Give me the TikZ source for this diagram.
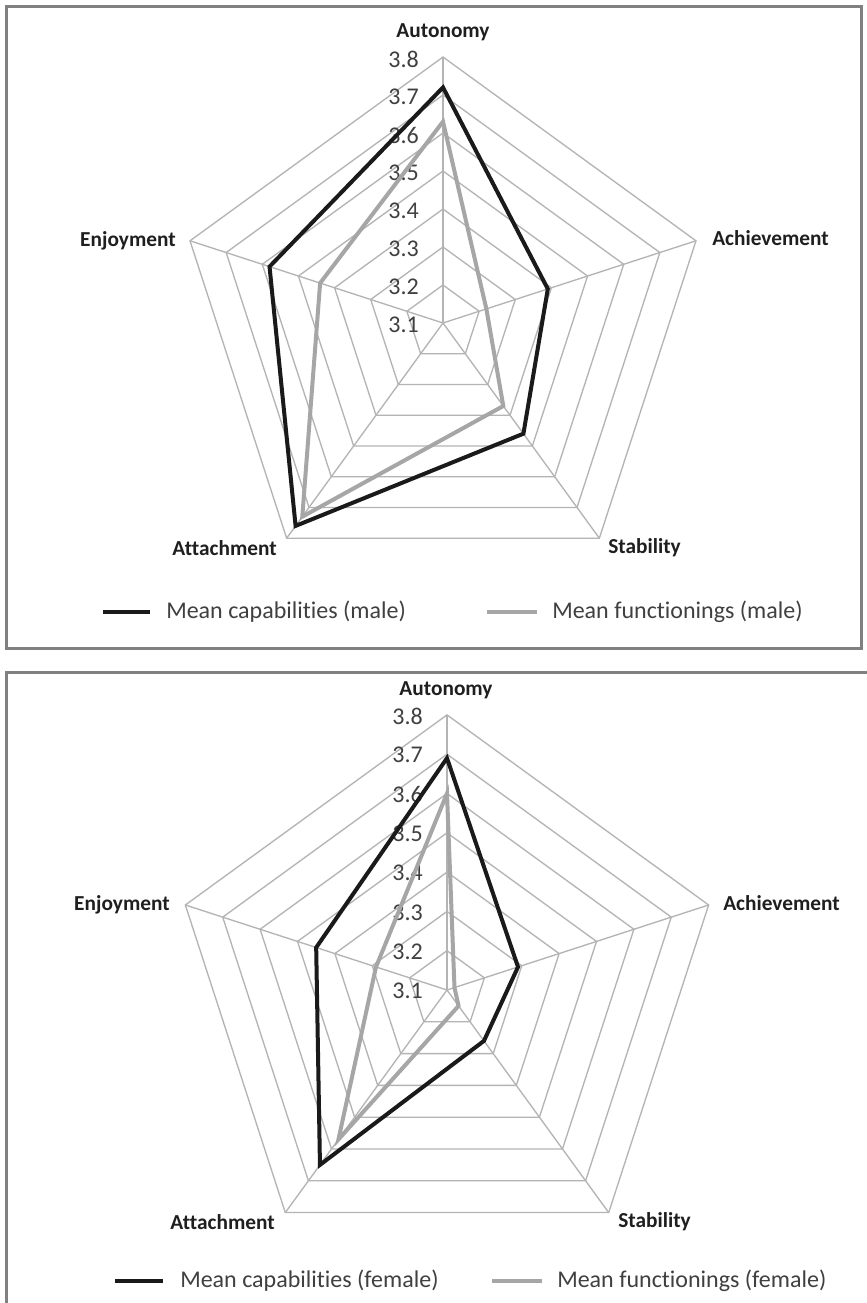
\documentclass[tikz,border=0pt]{standalone}
\usepackage{fontspec}
\setmainfont{Carlito}[Ligatures={NoCommon}]
\definecolor{gridgray}{HTML}{B4B4B4}
\definecolor{capcol}{HTML}{1A1A1A}
\definecolor{funcol}{HTML}{A6A6A6}
\definecolor{framecol}{HTML}{808080}
\definecolor{txtcol}{HTML}{404040}
\begin{document}
\begin{tikzpicture}[x=0.75pt,y=-0.75pt,
  gridline/.style={draw=gridgray,line width=1pt},
  capline/.style={draw=capcol,line width=3pt,line join=miter},
  funline/.style={draw=funcol,line width=3pt,line join=miter},
  catlabel/.style={font=\fontsize{16}{18}\selectfont\bfseries,text=black!88,inner sep=0pt},
  ticklabel/.style={font=\fontsize{18}{20}\selectfont,text=txtcol,inner sep=0pt,anchor=east},
  legendtext/.style={font=\fontsize{18}{20}\selectfont,text=txtcol,inner sep=0pt,anchor=west},
  boxframe/.style={draw=framecol,line width=2.25pt}]
\useasboundingbox (0,0) rectangle (867,1303);
\fill[white] (0,0) rectangle (867,1303);

% ---------- top chart (male) ----------
\draw[boxframe] (6,6) rectangle (861,648);
\begin{scope}[shift={(443,323)}, yscale=-1]
  \foreach \k in {1,...,7}{
    \draw[gridline] (90:{\k*38}) -- (18:{\k*38}) -- (-54:{\k*38}) -- (-126:{\k*38}) -- (162:{\k*38}) -- cycle;
  }
  \foreach \a in {90,18,-54,-126,162} \draw[gridline] (0,0) -- (\a:266);
  \foreach \k/\t in {0/3.1,1/3.2,2/3.3,3/3.4,4/3.5,5/3.6,6/3.7,7/3.8}
    \node[ticklabel] (ma\k) at (-24,{\k*38-2}) {\t};
  \draw[funline] (90:{(3.63-3.1)*380}) -- (18:{(3.22-3.1)*380}) -- (-54:{(3.37-3.1)*380}) -- (-126:{(3.73-3.1)*380}) -- (162:{(3.44-3.1)*380}) -- cycle;
  \draw[capline] (90:{(3.72-3.1)*380}) -- (18:{(3.39-3.1)*380}) -- (-54:{(3.46-3.1)*380}) -- (-126:{(3.76-3.1)*380}) -- (162:{(3.58-3.1)*380}) -- cycle;
\end{scope}
\node[catlabel] (mAut) at (443,32) {Autonomy};
\node[catlabel,anchor=west] (mAch) at (712,238) {Achievement};
\node[catlabel,anchor=east] (mEnj) at (176,241) {Enjoyment};
\node[catlabel,anchor=east] (mAtt) at (277,548) {Attachment};
\node[catlabel,anchor=west] (mSta) at (608,548) {Stability};
\draw[capline] (103,612) -- (150,612);
\node[legendtext] (mlc) at (166,612) {Mean capabilities (male)};
\draw[funline] (487,612) -- (537,612);
\node[legendtext] (mlf) at (552,612) {Mean functionings (male)};

% ---------- bottom chart (female) ----------
\draw[boxframe] (867,672) -- (6,672) -- (6,1303);
\begin{scope}[shift={(447,990)}, yscale=-1]
  \foreach \k in {1,...,7}{
    \draw[gridline] (90:{\k*39.3}) -- (18:{\k*39.3}) -- (-54:{\k*39.3}) -- (-126:{\k*39.3}) -- (162:{\k*39.3}) -- cycle;
  }
  \foreach \a in {90,18,-54,-126,162} \draw[gridline] (0,0) -- (\a:275.1);
  \foreach \k/\t in {0/3.1,1/3.2,2/3.3,3/3.4,4/3.5,5/3.6,6/3.7,7/3.8}
    \node[ticklabel] (fa\k) at (-24,{\k*39.3-1}) {\t};
  \draw[funline] (90:{(3.60-3.1)*393}) -- (18:{(3.12-3.1)*393}) -- (-54:{(3.15-3.1)*393}) -- (-126:{(3.57-3.1)*393}) -- (162:{(3.29-3.1)*393}) -- cycle;
  \draw[capline] (90:{(3.69-3.1)*393}) -- (18:{(3.29-3.1)*393}) -- (-54:{(3.26-3.1)*393}) -- (-126:{(3.65-3.1)*393}) -- (162:{(3.45-3.1)*393}) -- cycle;
\end{scope}
\node[catlabel] (fAut) at (446,690) {Autonomy};
\node[catlabel,anchor=west] (fAch) at (723,903) {Achievement};
\node[catlabel,anchor=east] (fEnj) at (170,905) {Enjoyment};
\node[catlabel,anchor=east] (fAtt) at (275,1222) {Attachment};
\node[catlabel,anchor=west] (fSta) at (618,1222) {Stability};
\draw[capline] (115,1281) -- (163,1281);
\node[legendtext] (flc) at (180,1281) {Mean capabilities (female)};
\draw[funline] (492,1281) -- (542,1281);
\node[legendtext] (flf) at (557,1281) {Mean functionings (female)};
\end{tikzpicture}
\end{document}
